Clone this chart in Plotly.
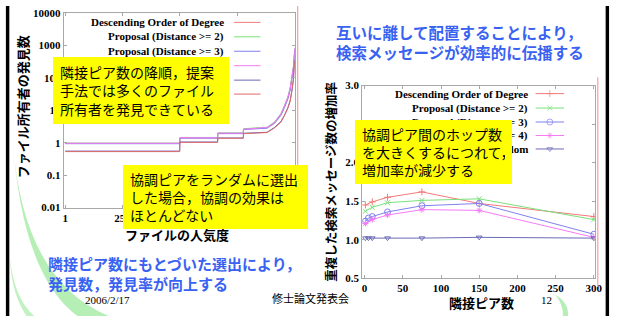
import plotly.graph_objects as go

W, H = 624, 322

# ---------------- left chart: owners found vs. file popularity ----------------
pop_rank = [1, 499, 500, 664, 665, 776, 777, 880, 913, 940, 955, 970, 980, 988, 994, 998, 1000]
found_desc = [0.95, 0.95, 1.40, 1.40, 1.95, 1.95, 2.60, 2.90, 4.2, 7.5, 13, 24, 45, 90, 200, 450, 800]
found_dist2 = [0.97, 0.97, 1.45, 1.45, 2.00, 2.00, 2.70, 3.00, 4.4, 8.0, 14, 26, 50, 100, 220, 480, 850]
found_dist3 = [0.93, 0.93, 1.38, 1.38, 1.90, 1.90, 2.55, 2.80, 4.0, 7.0, 12, 22, 42, 85, 190, 420, 750]
found_dist4 = [0.96, 0.96, 1.42, 1.42, 1.97, 1.97, 2.62, 2.95, 4.3, 7.8, 13.5, 25, 47, 95, 210, 460, 820]
found_random = [0.55, 0.55, 1.05, 1.05, 1.40, 1.40, 1.95, 2.10, 3.0, 4.5, 7.0, 12, 20, 40, 90, 200, 350]
found_asc = [0.53, 0.53, 1.02, 1.02, 1.37, 1.37, 1.90, 2.05, 2.9, 4.3, 6.8, 11.5, 19, 38, 85, 190, 330]
pop_ticks = [1, 250, 500, 750, 1000]
found_ticks = [0.01, 0.1, 1, 10, 100, 1000, 10000]
found_tick_text = ["0.01", "0.1", "1", "10", "100", "1000", "10000"]

# ---------------- right chart: duplicate query growth vs. neighbour count ----------------
hops_a = [1, 10, 30, 75, 150, 300]
rate_desc = [1.45, 1.49, 1.55, 1.62, 1.47, 1.30]
rate_dist2 = [1.37, 1.42, 1.48, 1.51, 1.53, 1.26]
rate_dist4 = [1.21, 1.26, 1.32, 1.39, 1.38, 1.03]
hops_b = [1, 5, 10, 30, 75, 150, 300]
rate_dist3 = [1.24, 1.28, 1.30, 1.36, 1.44, 1.47, 1.07]
rate_random = [1.02, 1.02, 1.02, 1.02, 1.02, 1.03, 1.02]
hop_ticks = [0, 50, 100, 150, 200, 250, 300]
rate_ticks = [0.5, 1.0, 1.5, 2.0, 2.5, 3.0]
rate_tick_text = ["0.5", "1.0", "1.5", "2.0", "", "3.0"]

left_names = ["Descending Order of Degree", "Proposal (Distance >= 2)", "Proposal (Distance >= 3)",
              "Proposal (Distance >= 4)", "Random", "Ascending Order of Degree"]
right_names = ["Descending Order of Degree", "Proposal (Distance >= 2)", "Proposal (Distance >= 3)",
               "Proposal (Distance >= 4)", "Random"]

RED = "#f27a7a"
GREEN = "#7be07b"
BLUE = "#8080f0"
MAGENTA = "#f57af5"
NAVY = "#6a6ab8"
RED2 = "#e06868"

SERIF = "Liberation Serif"
JP = "Noto Sans CJK JP"
FRAME = "#a8a8a8"


def px(x):
    return x / W


def py(y):
    return 1 - y / H


fig = go.Figure()

left_series = [(found_desc, RED), (found_dist2, GREEN), (found_dist3, BLUE),
               (found_dist4, MAGENTA), (found_random, NAVY), (found_asc, RED2)]
for (vals, col), name in zip(left_series, left_names):
    fig.add_trace(go.Scatter(x=pop_rank, y=vals, mode="lines", name=name,
                             line=dict(color=col, width=1), xaxis="x", yaxis="y",
                             showlegend=False))

right_series = [
    (hops_a, rate_desc, RED, "cross-thin-open", 5),
    (hops_a, rate_dist2, GREEN, "x-thin-open", 5),
    (hops_b, rate_dist3, BLUE, "circle-open", 6),
    (hops_a, rate_dist4, MAGENTA, "asterisk-open", 5),
    (hops_b, rate_random, NAVY, "triangle-down-open", 5),
]
for (xs, ys, col, sym, sz), name in zip(right_series, right_names):
    fig.add_trace(go.Scatter(x=xs, y=ys, mode="lines+markers", name=name,
                             line=dict(color=col, width=1),
                             marker=dict(symbol=sym, size=sz, color=col,
                                         line=dict(color=col, width=1)),
                             xaxis="x2", yaxis="y2", showlegend=False))

# legend keys drawn in page pixel units on an overlay axis pair
left_rows = [17, 32, 47, 62, 77, 91.5]
for row_y, (_, col) in zip(left_rows, left_series):
    fig.add_trace(go.Scatter(x=[238, 265], y=[row_y, row_y], mode="lines",
                             line=dict(color=col, width=1), xaxis="x3", yaxis="y3",
                             showlegend=False, hoverinfo="skip"))
right_rows = [91, 106, 120.5, 134.5, 148.5]
for row_y, (_, _, col, sym, sz) in zip(right_rows, right_series):
    fig.add_trace(go.Scatter(x=[546, 560.5, 575], y=[row_y] * 3, mode="lines+markers",
                             line=dict(color=col, width=1),
                             marker=dict(symbol=sym, size=[0, sz, 0], color=col,
                                         line=dict(color=col, width=1)),
                             xaxis="x3", yaxis="y3", showlegend=False, hoverinfo="skip"))

tickfont = dict(family=SERIF, size=11, color="black", weight="bold")
common = dict(showline=True, linecolor=FRAME, linewidth=1, mirror="ticks", ticks="inside",
              tickcolor=FRAME, ticklen=3, showgrid=False, zeroline=False, tickfont=tickfont)

fig.update_layout(
    width=W, height=H, margin=dict(l=0, r=0, t=0, b=0),
    paper_bgcolor="white", plot_bgcolor="rgba(0,0,0,0)", showlegend=False,
    xaxis=dict(domain=[px(64), px(300)], range=[-6, 1000], tickvals=pop_ticks,
               anchor="y", **common),
    yaxis=dict(domain=[py(209.3), py(7.3)], type="log", range=[-2, 4],
               tickvals=found_ticks, ticktext=found_tick_text, anchor="x", **common),
    xaxis2=dict(domain=[px(369), px(607)], range=[-3, 302], tickvals=hop_ticks,
                anchor="y2", **common),
    yaxis2=dict(domain=[py(282.7), py(82.7)], range=[0.5, 3.0], tickvals=rate_ticks,
                ticktext=rate_tick_text, anchor="x2", **common),
    xaxis3=dict(domain=[0, 1], range=[0, W], visible=False, anchor="y3"),
    yaxis3=dict(domain=[0, 1], range=[H, 0], visible=False, anchor="x3"),
)

shapes = []
# slide frame bars
shapes.append(dict(type="rect", xref="paper", yref="paper", x0=px(5), x1=px(8.5), y0=0, y1=1,
                   fillcolor="black", line=dict(width=0), layer="below"))
shapes.append(dict(type="rect", xref="paper", yref="paper", x0=px(617.5), x1=px(621), y0=0, y1=1,
                   fillcolor="black", line=dict(width=0), layer="below"))
# green swooshes
shapes.append(dict(type="path", xref="x3", yref="y3",
                   path="M 12 140 Q 22 285 110 322 L 78 322 Q 22 280 12 140 Z",
                   fillcolor="rgba(120,225,120,0.55)", line=dict(width=0), layer="below"))
shapes.append(dict(type="path", xref="x3", yref="y3",
                   path="M 9 262 Q 14 305 34 322 L 26 322 Q 11 300 9 262 Z",
                   fillcolor="rgba(120,225,120,0.45)", line=dict(width=0), layer="below"))
shapes.append(dict(type="path", xref="x3", yref="y3",
                   path="M 566 300 Q 580 308 579 322 L 574 322 Q 574 309 566 300 Z",
                   fillcolor="rgba(120,225,120,0.55)", line=dict(width=0), layer="below"))
# image edge rules beside each chart
shapes.append(dict(type="line", xref="x3", yref="y3", x0=303, x1=303, y0=0, y1=222,
                   line=dict(color="#f4a0a0", width=1.2)))
shapes.append(dict(type="line", xref="x3", yref="y3", x0=609.5, x1=609.5, y0=74, y1=292,
                   line=dict(color="#f4a0a0", width=1.2)))
fig.update_layout(shapes=shapes)

ann = []
legfont = dict(family=SERIF, size=11, color="black")
for row_y, name in zip(left_rows, left_names):
    ann.append(dict(xref="paper", yref="paper", x=px(230), y=py(row_y), xanchor="right",
                    yanchor="middle", text="<b>%s</b>" % name, showarrow=False, font=legfont))
for row_y, name in zip(right_rows, right_names):
    ann.append(dict(xref="paper", yref="paper", x=px(540), y=py(row_y), xanchor="right",
                    yanchor="middle", text="<b>%s</b>" % name, showarrow=False, font=legfont))

# axis titles
titlefont = dict(family=JP, size=13, color="black")
ann.append(dict(xref="paper", yref="paper", x=px(21.5), y=py(105), textangle=-90,
                text="<b>ファイル所有者の発見数</b>", showarrow=False, font=titlefont,
                xanchor="center", yanchor="middle"))
ann.append(dict(xref="paper", yref="paper", x=px(180), y=py(237.5),
                text="<b>ファイルの人気度</b>", showarrow=False, font=titlefont,
                xanchor="center", yanchor="middle"))
ann.append(dict(xref="paper", yref="paper", x=px(336.5), y=py(182), textangle=-90,
                text="<b>重複した検索メッセージ数の増加率</b>", showarrow=False,
                font=dict(family=JP, size=12.5, color="black"),
                xanchor="center", yanchor="middle"))
ann.append(dict(xref="paper", yref="paper", x=px(491), y=py(308),
                text="<b>隣接ピア数</b>", showarrow=False, font=titlefont,
                xanchor="center", yanchor="middle"))

# yellow callouts
boxfont = dict(family=JP, size=14, color="black")
callouts = [
    (52.7, 53.3, 175.6, 66.7, "隣接ピア数の降順，提案<br>手法では多くのファイル<br>所有者を発見できている"),
    (125, 165, 185, 64.3, "協調ピアをランダムに選出<br>した場合，協調の効果は<br>ほとんどない"),
    (362, 118, 157, 64, "協調ピア間のホップ数<br>を大きくするにつれて，<br>増加率が減少する"),
]
pad = 7
for x0, y0, w, h, txt in callouts:
    ann.append(dict(xref="paper", yref="paper", x=px(x0), y=py(y0), xanchor="left",
                    yanchor="top", width=w - 2 * pad, height=h - 2 * pad, borderpad=pad,
                    borderwidth=0, bgcolor="#ffff00", align="left", valign="middle",
                    text=txt, showarrow=False, font=boxfont))

# blue statements
bluefont = dict(family=JP, size=15.5, color="#3a62f2")
ann.append(dict(xref="paper", yref="paper", x=px(340), y=py(37.5), xanchor="left",
                yanchor="middle", align="left", showarrow=False, font=bluefont,
                text="<b>互いに離して配置することにより，<br>検索メッセージが効率的に伝播する</b>"))
ann.append(dict(xref="paper", yref="paper", x=px(46), y=py(278), xanchor="left",
                yanchor="middle", align="left", showarrow=False,
                font=dict(family=JP, size=15, color="#3a62f2"),
                text="<b>隣接ピア数にもとづいた選出により，<br>発見数，発見率が向上する</b>"))

# footer
ann.append(dict(xref="paper", yref="paper", x=px(84), y=py(313.5), showarrow=False,
                text="2006/2/17", font=dict(family=SERIF, size=11, color="black")))
ann.append(dict(xref="paper", yref="paper", x=px(316), y=py(313.5), showarrow=False,
                text="修士論文発表会", font=dict(family=JP, size=11, color="black")))
ann.append(dict(xref="paper", yref="paper", x=px(565), y=py(313.5), showarrow=False,
                text="12", font=dict(family=SERIF, size=11, color="black")))

fig.update_layout(annotations=ann)
fig.write_html("out.html")
